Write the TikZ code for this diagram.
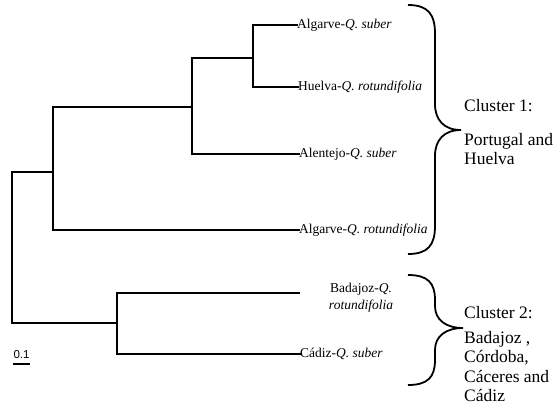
\documentclass[tikz,border=0pt]{standalone}
\usepackage{fontspec}
\setmainfont{Liberation Serif}
\newfontfamily\arialfont{Liberation Sans}
\begin{document}
\begin{tikzpicture}[x=1pt,y=-1pt,
  branch/.style={line width=1.3pt,line cap=rect},
  bracepath/.style={line width=1.8pt},
  leaflabel/.style={anchor=west,inner sep=0pt,font=\fontsize{13.5}{16}\selectfont},
  clustertitle/.style={anchor=west,inner sep=0pt,font=\fontsize{17.5}{19.5}\selectfont},
  clusterbody/.style={anchor=north west,inner sep=0pt,align=left,font=\fontsize{17.5}{19.5}\selectfont}]
\useasboundingbox (0,0) rectangle (560,416);
% internal nodes
\coordinate (root) at (12,172);
\coordinate (rootb) at (12,323);
\coordinate (c1) at (53,172);
\coordinate (c1a) at (53,107);
\coordinate (c1b) at (53,230);
\coordinate (n2) at (192,107);
\coordinate (n2a) at (192,58);
\coordinate (n2b) at (192,154);
\coordinate (n3) at (253,58);
\coordinate (n3a) at (253,25);
\coordinate (n3b) at (253,87);
\coordinate (c2) at (117,323);
\coordinate (c2a) at (117,293);
\coordinate (c2b) at (117,354);
% leaves
\coordinate (l1) at (297,25);
\coordinate (l2) at (298,87);
\coordinate (l3) at (299,154);
\coordinate (l4) at (299,230);
\coordinate (l5) at (299,293);
\coordinate (l6) at (300,354);
% tree
\draw[branch] (root) -- (rootb);
\draw[branch] (root) -- (c1);
\draw[branch] (c1a) -- (c1b);
\draw[branch] (c1a) -- (n2);
\draw[branch] (n2a) -- (n2b);
\draw[branch] (n2a) -- (n3);
\draw[branch] (n3a) -- (n3b);
\draw[branch] (n3a) -- (l1);
\draw[branch] (n3b) -- (l2);
\draw[branch] (n2b) -- (l3);
\draw[branch] (c1b) -- (l4);
\draw[branch] (rootb) -- (c2);
\draw[branch] (c2a) -- (c2b);
\draw[branch] (c2a) -- (l5);
\draw[branch] (c2b) -- (l6);
% labels
\node[leaflabel] (t1) at (l1) {Algarve-\textit{Q. suber}};
\node[leaflabel] (t2) at (l2) {Huelva-\textit{Q. rotundifolia}};
\node[leaflabel] (t3) at (l3) {Alentejo-\textit{Q. suber}};
\node[leaflabel] (t4) at (l4) {Algarve-\textit{Q. rotundifolia}};
\node[inner sep=0pt,align=center,font=\fontsize{13.5}{17}\selectfont] (t5) at (361,298) {Badajoz-\textit{Q.}\\\textit{rotundifolia}};
\node[leaflabel] (t6) at (l6) {Cádiz-\textit{Q. suber}};
% scale bar
\node[inner sep=0pt,font=\arialfont\fontsize{11.5}{13}\selectfont] (sb) at (21.5,355) {0.1};
\coordinate (sbl) at (13,364);
\coordinate (sbr) at (30,364);
\draw[line width=1.1pt] (sbl) -- (sbr);
% brace 1
\coordinate (b1t) at (408,5);
\coordinate (b1tip) at (461,130);
\coordinate (b1b) at (408,254);
\draw[bracepath] (b1t) .. controls (428,5) and (435,14) .. (435,34)
  -- (435,104) .. controls (435,120) and (444,130) .. (b1tip);
\draw[bracepath] (b1b) .. controls (428,254) and (435,245) .. (435,226)
  -- (435,156) .. controls (435,140) and (444,130) .. (b1tip);
% brace 2
\coordinate (b2t) at (408,275);
\coordinate (b2tip) at (463,328);
\coordinate (b2b) at (408,385);
\draw[bracepath] (b2t) .. controls (428,275) and (435,283) .. (435,300)
  -- (435,306) .. controls (435,320) and (446,328) .. (b2tip);
\draw[bracepath] (b2b) .. controls (428,385) and (435,377) .. (435,360)
  -- (435,350) .. controls (435,336) and (446,328) .. (b2tip);
% cluster texts
\node[clustertitle] (ct1) at (464,106) {Cluster 1:};
\node[clusterbody] (cb1) at (464,133) {Portugal and\\Huelva};
\node[clustertitle] (ct2) at (464,313) {Cluster 2:};
\node[clusterbody] (cb2) at (464,331) {Badajoz ,\\Córdoba,\\Cáceres and\\Cádiz};
\end{tikzpicture}
\end{document}
